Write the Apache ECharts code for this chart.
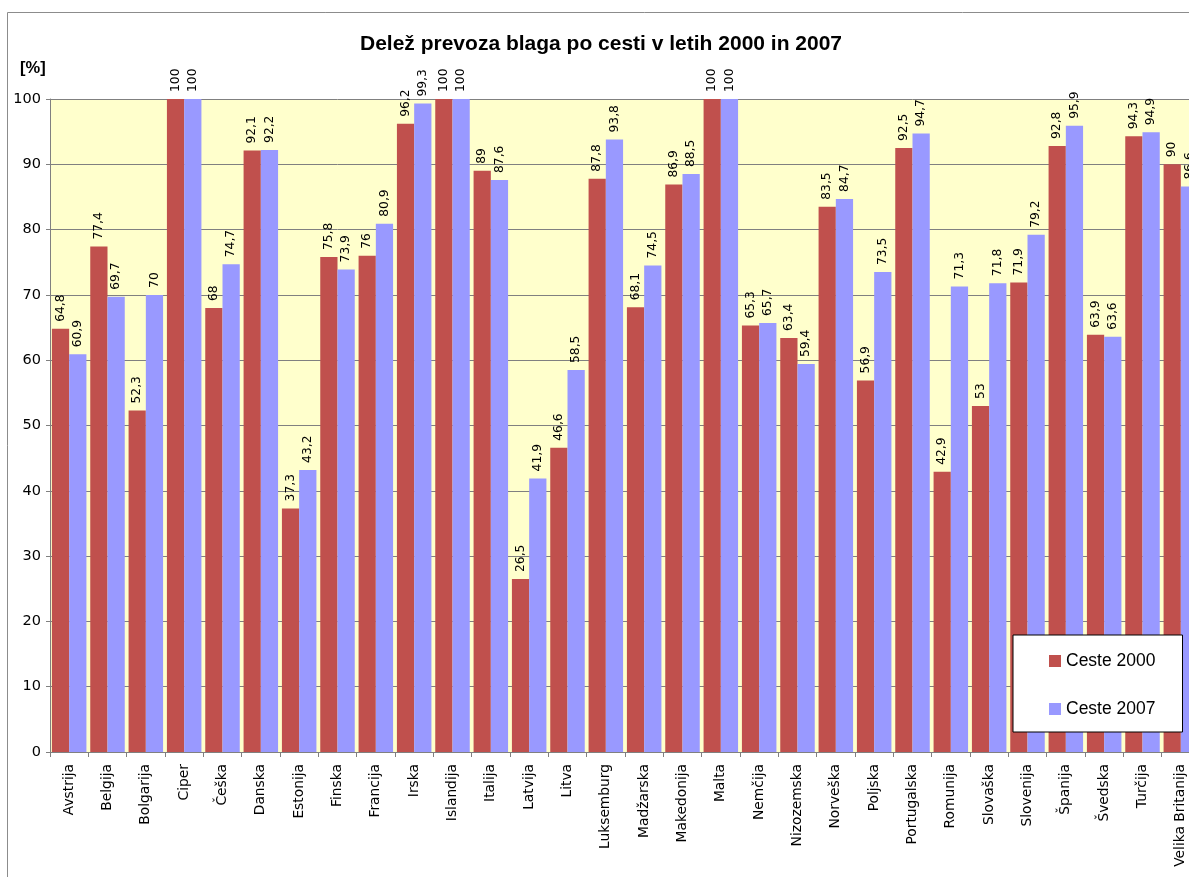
<!DOCTYPE html>
<html>
<head>
<meta charset="utf-8">
<script src="https://cdn.jsdelivr.net/npm/echarts@6/dist/echarts.min.js"></script>
<style>
html,body{margin:0;padding:0;background:#fff;overflow:hidden;}
#wrap{width:1189px;height:877px;overflow:hidden;position:relative;}
#chart{width:1280px;height:877px;position:absolute;left:0;top:0;}
</style>
</head>
<body>
<div id="wrap"><div id="chart"></div></div>
<script>
const categories = ['Avstrija','Belgija','Bolgarija','Ciper','Češka','Danska','Estonija','Finska','Francija','Irska','Islandija','Italija','Latvija','Litva','Luksemburg','Madžarska','Makedonija','Malta','Nemčija','Nizozemska','Norveška','Poljska','Portugalska','Romunija','Slovaška','Slovenija','Španija','Švedska','Turčija','Velika Britanija'];
const ceste2000 = [64.8,77.4,52.3,100,68,92.1,37.3,75.8,76,96.2,100,89,26.5,46.6,87.8,68.1,86.9,100,65.3,63.4,83.5,56.9,92.5,42.9,53,71.9,92.8,63.9,94.3,90];
const ceste2007 = [60.9,69.7,70,100,74.7,92.2,43.2,73.9,80.9,99.3,100,87.6,41.9,58.5,93.8,74.5,88.5,100,65.7,59.4,84.7,73.5,94.7,71.3,71.8,79.2,95.9,63.6,94.9,86.6];
const seriesNames = ['Ceste 2000','Ceste 2007'];
const yTicks = [0,10,20,30,40,50,60,70,80,90,100];

const chart = echarts.init(document.getElementById('chart'));
const fmt = p => String(p.value).replace('.', ',');
const labelCfg = {
  show: true, position: 'top', rotate: 90, align: 'left', verticalAlign: 'middle',
  distance: 7, formatter: fmt, color: '#000', fontFamily: 'DejaVu Sans', fontSize: 12.3
};
chart.setOption({
  animation: false,
  backgroundColor: '#fff',
  title: [
    { text: 'Delež prevoza blaga po cesti v letih 2000 in 2007', left: 355, top: 29,
      textStyle: { fontFamily: 'Liberation Sans', fontWeight: 'bold', fontSize: 21, color: '#000' } },
    { text: '[%]', left: 15, top: 55,
      textStyle: { fontFamily: 'Liberation Sans', fontWeight: 'bold', fontSize: 16.5, color: '#000' } }
  ],
  graphic: [
    { type: 'rect', z: 0, silent: true, shape: { x: 7.5, y: 12.5, width: 1400, height: 1000 },
      style: { fill: 'none', stroke: '#8c8c8c', lineWidth: 1 } }
  ],
  legend: {
    orient: 'vertical', left: 1013, top: 635,
    padding: [17, 27, 14, 36], itemGap: 30, itemWidth: 12, itemHeight: 12,
    borderColor: '#000', borderWidth: 1, backgroundColor: '#fff',
    icon: 'rect',
    textStyle: { fontFamily: 'Liberation Sans', fontSize: 17.5, color: '#000' },
    data: seriesNames
  },
  grid: { left: 50, right: 80, top: 99, bottom: 125, show: true, backgroundColor: '#FFFFCC', borderWidth: 0 },
  xAxis: {
    type: 'category', data: categories,
    axisLine: { lineStyle: { color: '#808080' } },
    axisTick: { show: true, length: 5, interval: 0, lineStyle: { color: '#808080' } },
    axisLabel: { interval: 0, rotate: 90, margin: 12, color: '#000', fontFamily: 'DejaVu Sans', fontSize: 13.8 }
  },
  yAxis: {
    type: 'value', min: yTicks[0], max: yTicks[yTicks.length - 1], interval: 10,
    axisLine: { show: true, lineStyle: { color: '#808080' } },
    axisTick: { show: true, length: 4, lineStyle: { color: '#808080' } },
    axisLabel: { margin: 9, color: '#000', fontFamily: 'DejaVu Sans', fontSize: 14.5 },
    splitLine: { lineStyle: { color: '#808080', width: 1 } }
  },
  series: [
    { name: seriesNames[0], type: 'bar', data: ceste2000, barGap: '0%', barCategoryGap: '10%',
      itemStyle: { color: '#C0504D' }, label: labelCfg },
    { name: seriesNames[1], type: 'bar', data: ceste2007, barGap: '0%', barCategoryGap: '10%',
      itemStyle: { color: '#9999FF' }, label: labelCfg }
  ]
});
</script>
</body>
</html>
